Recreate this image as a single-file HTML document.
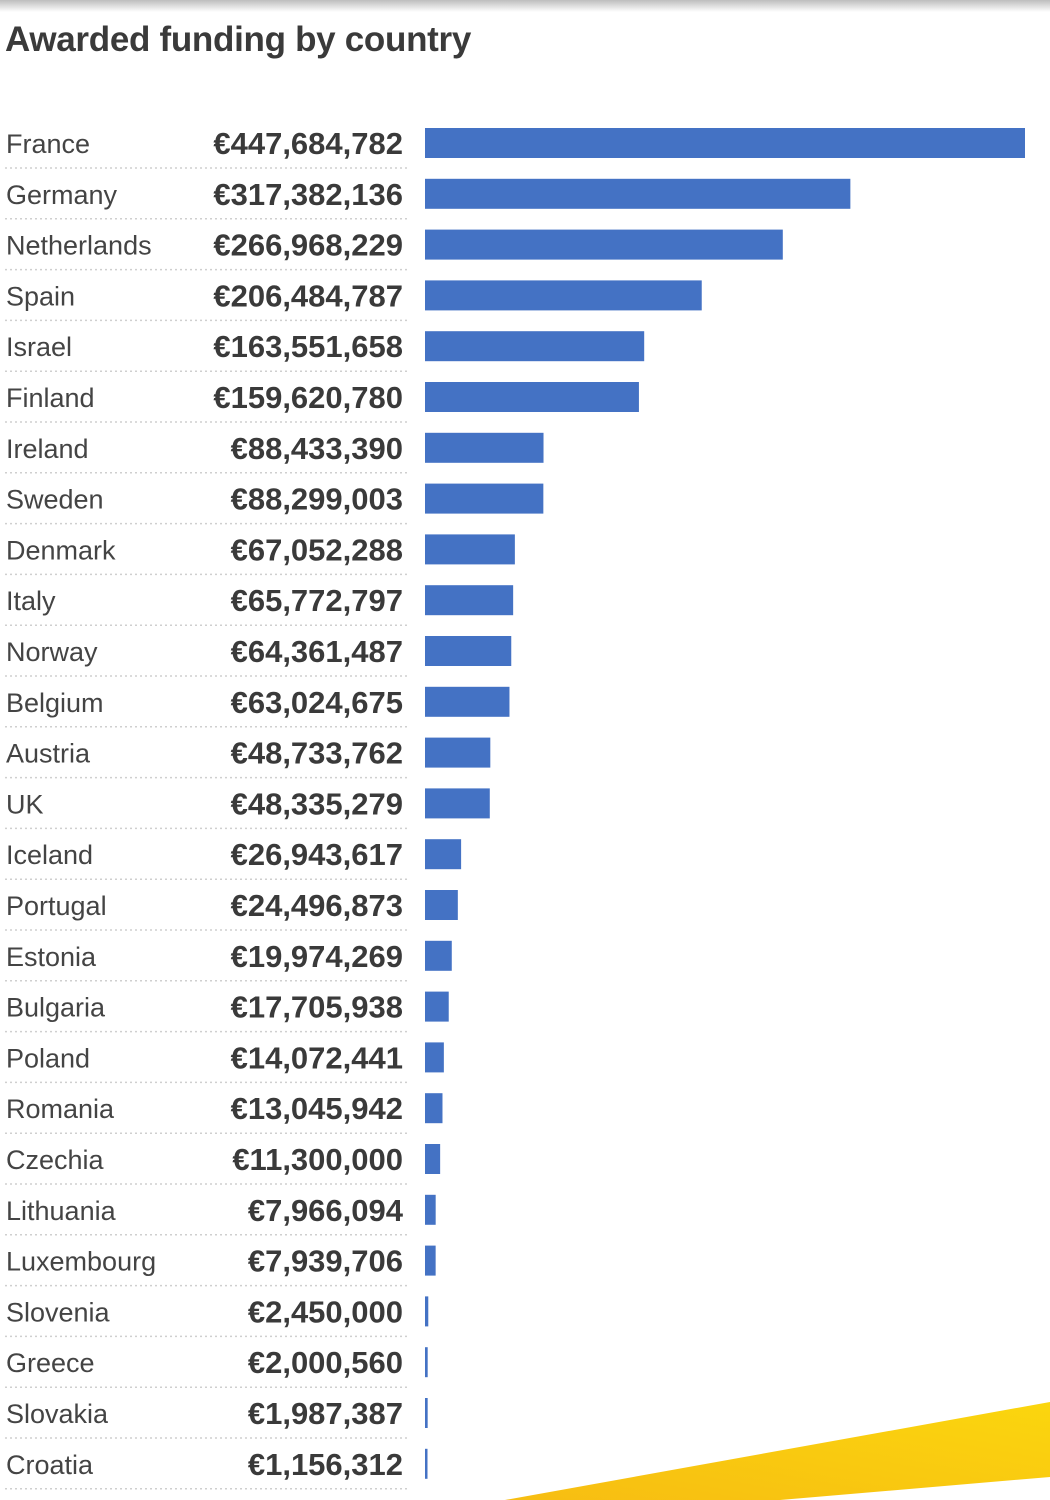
<!DOCTYPE html>
<html><head><meta charset="utf-8"><style>
body{margin:0;width:1050px;height:1500px;background:#fff;overflow:hidden;position:relative;font-family:"Liberation Sans",sans-serif}
.shadow{position:absolute;left:0;top:0;width:1050px;height:12px;background:linear-gradient(#bdbdbd,#fff)}
h1{position:absolute;left:5px;top:20px;margin:0;font-size:35px;font-weight:bold;color:#3a3a3a;letter-spacing:-0.3px}
</style></head><body>
<div class="shadow"></div>
<h1>Awarded funding by country</h1>
<svg id="chart" width="1050" height="1500" style="position:absolute;left:0;top:0">
<defs><linearGradient id="yg" x1="0" y1="1" x2="1" y2="0"><stop offset="0" stop-color="#f7bd12"/><stop offset="1" stop-color="#fbd60e"/></linearGradient></defs>
<polygon points="505,1500 1050,1402 1050,1477 780,1500" fill="url(#yg)"/>
</svg>
<script>
const countries=["France","Germany","Netherlands","Spain","Israel","Finland","Ireland","Sweden","Denmark","Italy","Norway","Belgium","Austria","UK","Iceland","Portugal","Estonia","Bulgaria","Poland","Romania","Czechia","Lithuania","Luxembourg","Slovenia","Greece","Slovakia","Croatia"];
const values=[447684782,317382136,266968229,206484787,163551658,159620780,88433390,88299003,67052288,65772797,64361487,63024675,48733762,48335279,26943617,24496873,19974269,17705938,14072441,13045942,11300000,7966094,7939706,2450000,2000560,1987387,1156312];
const NS="http://www.w3.org/2000/svg";
const svg=document.getElementById('chart');
const x0=425, xMax=1025, maxV=447684782;
const xScale=v=>(xMax-x0)*v/maxV;
const yCenter=i=>143+i*50.8;
function mk(tag,attrs){const e=document.createElementNS(NS,tag);for(const k in attrs)e.setAttribute(k,attrs[k]);svg.appendChild(e);return e;}
countries.forEach((c,i)=>{
  const y=yCenter(i);
  const n=mk('text',{x:6,y:y+10,'font-size':27,fill:'#444'});
  n.textContent=c;
  
  
  const v=mk('text',{x:403,y:y+11,'font-size':31,'font-weight':'bold',fill:'#3a3a3a','text-anchor':'end'});
  v.textContent='€'+values[i].toLocaleString('en-US');
  
  
  const b=mk('rect',{x:x0,y:y-15,width:Math.max(2.5,xScale(values[i])),height:30,fill:'#4472c4'});
  
  
  const l=mk('line',{x1:5,x2:410,y1:y+25,y2:y+25,stroke:'#cfcfcf','stroke-width':1.5,'stroke-dasharray':'2 3'});
  
  
});
</script>
</body></html>
